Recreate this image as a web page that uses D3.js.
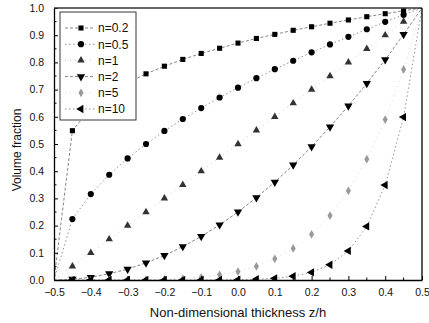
<!DOCTYPE html>
<html>
<head>
<meta charset="utf-8" />
<title>Volume fraction</title>
<style>
  body { margin: 0; background: #fff; }
  text { font-family: "Liberation Sans", Arial, sans-serif; fill: #111; }
</style>
</head>
<body>
<svg id="chart"></svg>
<script src="https://d3js.org/d3.v7.min.js"></script>
<script>
// thickness positions z/h
var zh = [-0.5, -0.45, -0.4, -0.35, -0.3, -0.25, -0.2, -0.15, -0.1, -0.05, 0,
          0.05, 0.1, 0.15, 0.2, 0.25, 0.3, 0.35, 0.4, 0.45, 0.5];

var labels = ["n=0.2", "n=0.5", "n=1", "n=2", "n=5", "n=10"];

var v02 = [0, 0.549, 0.631, 0.684, 0.725, 0.758, 0.786, 0.811, 0.833, 0.852, 0.871,
           0.888, 0.903, 0.918, 0.931, 0.944, 0.956, 0.968, 0.979, 0.990, 1];
var v05 = [0, 0.224, 0.316, 0.387, 0.447, 0.5, 0.548, 0.592, 0.632, 0.671, 0.707,
           0.742, 0.775, 0.806, 0.837, 0.866, 0.894, 0.922, 0.949, 0.975, 1];
var v1  = [0, 0.05, 0.1, 0.15, 0.2, 0.25, 0.3, 0.35, 0.4, 0.45, 0.5,
           0.55, 0.6, 0.65, 0.7, 0.75, 0.8, 0.85, 0.9, 0.95, 1];
var v2  = [0, 0.003, 0.01, 0.023, 0.04, 0.063, 0.09, 0.123, 0.16, 0.203, 0.25,
           0.303, 0.36, 0.423, 0.49, 0.563, 0.64, 0.723, 0.81, 0.903, 1];
var v5  = [0, 0, 0, 0, 0, 0.001, 0.002, 0.005, 0.01, 0.019, 0.031,
           0.05, 0.078, 0.116, 0.168, 0.237, 0.328, 0.444, 0.59, 0.774, 1];
var v10 = [0, 0, 0, 0, 0, 0, 0, 0, 0, 0, 0.001,
           0.003, 0.006, 0.014, 0.028, 0.056, 0.107, 0.197, 0.349, 0.599, 1];

var xTicks = [-0.5, -0.4, -0.3, -0.2, -0.1, 0.0, 0.1, 0.2, 0.3, 0.4, 0.5];
var yTicks = [0, 0.1, 0.2, 0.3, 0.4, 0.5, 0.6, 0.7, 0.8, 0.9, 1.0];

var width = 429, height = 323;
var m = {left: 54, right: 7, top: 8, bottom: 43};

var svg = d3.select("#chart").attr("width", width).attr("height", height);

var x = d3.scaleLinear().domain([-0.5, 0.5]).range([m.left, width - m.right]);
var y = d3.scaleLinear().domain([0, 1]).range([height - m.bottom, m.top]);

var series = [
  {name: labels[0], v: v02, sym: d3.symbolSquare,   size: 26, fill: "#000", dash: "3,2",   lc: "#666"},
  {name: labels[1], v: v05, sym: d3.symbolCircle,   size: 30, fill: "#000", dash: "1.5,2.5", lc: "#777"},
  {name: labels[2], v: v1,  sym: d3.symbolTriangle, size: 24, fill: "#333", dash: "1,4",   lc: "#bbb"},
  {name: labels[3], v: v2,  sym: "down",            size: 30, fill: "#000", dash: "3,2",   lc: "#666"},
  {name: labels[4], v: v5,  sym: d3.symbolDiamond,  size: 22, fill: "#999", dash: "1,4",   lc: "#ccc"},
  {name: labels[5], v: v10, sym: "left",            size: 30, fill: "#000", dash: "1.5,2.5", lc: "#777"}
];

function symPath(s) {
  if (s.sym === "down" || s.sym === "left") return d3.symbol().type(d3.symbolTriangle).size(s.size)();
  return d3.symbol().type(s.sym).size(s.size)();
}
function symRot(s) {
  if (s.sym === "down") return " rotate(180)";
  if (s.sym === "left") return " rotate(-90)";
  return "";
}

svg.append("clipPath").attr("id", "clip")
   .append("rect")
   .attr("x", m.left).attr("y", m.top)
   .attr("width", width - m.left - m.right)
   .attr("height", height - m.top - m.bottom);

var plot = svg.append("g").attr("clip-path", "url(#clip)");

var line = d3.line()
  .x(function(d, i) { return x(zh[i]); })
  .y(function(d) { return y(d); });

series.forEach(function(s) {
  plot.append("path")
      .attr("d", line(s.v))
      .attr("fill", "none")
      .attr("stroke", s.lc)
      .attr("stroke-width", 0.8)
      .attr("stroke-dasharray", s.dash);
});

series.forEach(function(s) {
  plot.append("g").selectAll("path")
      .data(s.v.slice(1, 20))
      .enter().append("path")
      .attr("d", symPath(s))
      .attr("transform", function(d, i) {
        return "translate(" + x(zh[i + 1]) + "," + y(d) + ")" + symRot(s);
      })
      .attr("fill", s.fill);
});

// axes with inward ticks
var xAxis = svg.append("g")
  .attr("transform", "translate(0," + (height - m.bottom) + ")")
  .call(d3.axisBottom(x).tickValues(xTicks).tickSizeInner(-4).tickSizeOuter(0)
        .tickPadding(9).tickFormat(d3.format(".1f")));
xAxis.append("g").selectAll("line")
  .data(xTicks.slice(0, -1))
  .enter().append("line")
  .attr("x1", function(d) { return x(d + 0.05); })
  .attr("x2", function(d) { return x(d + 0.05); })
  .attr("y1", 0).attr("y2", -2.5)
  .attr("stroke", "#000");

var yAxis = svg.append("g")
  .attr("transform", "translate(" + m.left + ",0)")
  .call(d3.axisLeft(y).tickValues(yTicks).tickSizeInner(-4).tickSizeOuter(0)
        .tickPadding(10).tickFormat(d3.format(".1f")));
yAxis.append("g").selectAll("line")
  .data(yTicks.slice(0, -1))
  .enter().append("line")
  .attr("y1", function(d) { return y(d + 0.05); })
  .attr("y2", function(d) { return y(d + 0.05); })
  .attr("x1", 0).attr("x2", 2.5)
  .attr("stroke", "#000");

svg.selectAll(".tick text").attr("font-size", "10.5px")
   .attr("font-family", "'Liberation Sans', Arial, sans-serif").attr("fill", "#111");
svg.selectAll(".domain").attr("stroke", "#000").attr("stroke-width", 1.3);

// frame
svg.append("line")
   .attr("x1", m.left).attr("x2", width - m.right)
   .attr("y1", m.top).attr("y2", m.top)
   .attr("stroke", "#333").attr("stroke-width", 1.3);
svg.append("line")
   .attr("x1", width - m.right).attr("x2", width - m.right)
   .attr("y1", m.top).attr("y2", height - m.bottom)
   .attr("stroke", "#000").attr("stroke-width", 1.3);

// legend
var leg = svg.append("g");
leg.append("rect")
   .attr("x", 60).attr("y", 12).attr("width", 76).attr("height", 108)
   .attr("fill", "#fff").attr("stroke", "#222").attr("stroke-width", 0.9);

series.forEach(function(s, i) {
  var ly = 28 + i * 16.2;
  leg.append("line")
     .attr("x1", 65).attr("x2", 95).attr("y1", ly).attr("y2", ly)
     .attr("stroke", s.lc).attr("stroke-width", 0.8)
     .attr("stroke-dasharray", s.dash);
  leg.append("path")
     .attr("d", symPath(s))
     .attr("transform", "translate(81," + ly + ")" + symRot(s))
     .attr("fill", s.fill);
  leg.append("text")
     .attr("x", 98).attr("y", ly).attr("dy", "0.36em")
     .attr("font-size", "12px")
     .text(s.name);
});

svg.append("text")
   .attr("x", (m.left + width - m.right) / 2).attr("y", 317)
   .attr("text-anchor", "middle").attr("font-size", "13px")
   .text("Non-dimensional thickness z/h");

svg.append("text")
   .attr("transform", "translate(21," + 150 + ") rotate(-90)")
   .attr("text-anchor", "middle").attr("font-size", "12px")
   .text("Volume fraction");
</script>
</body>
</html>
